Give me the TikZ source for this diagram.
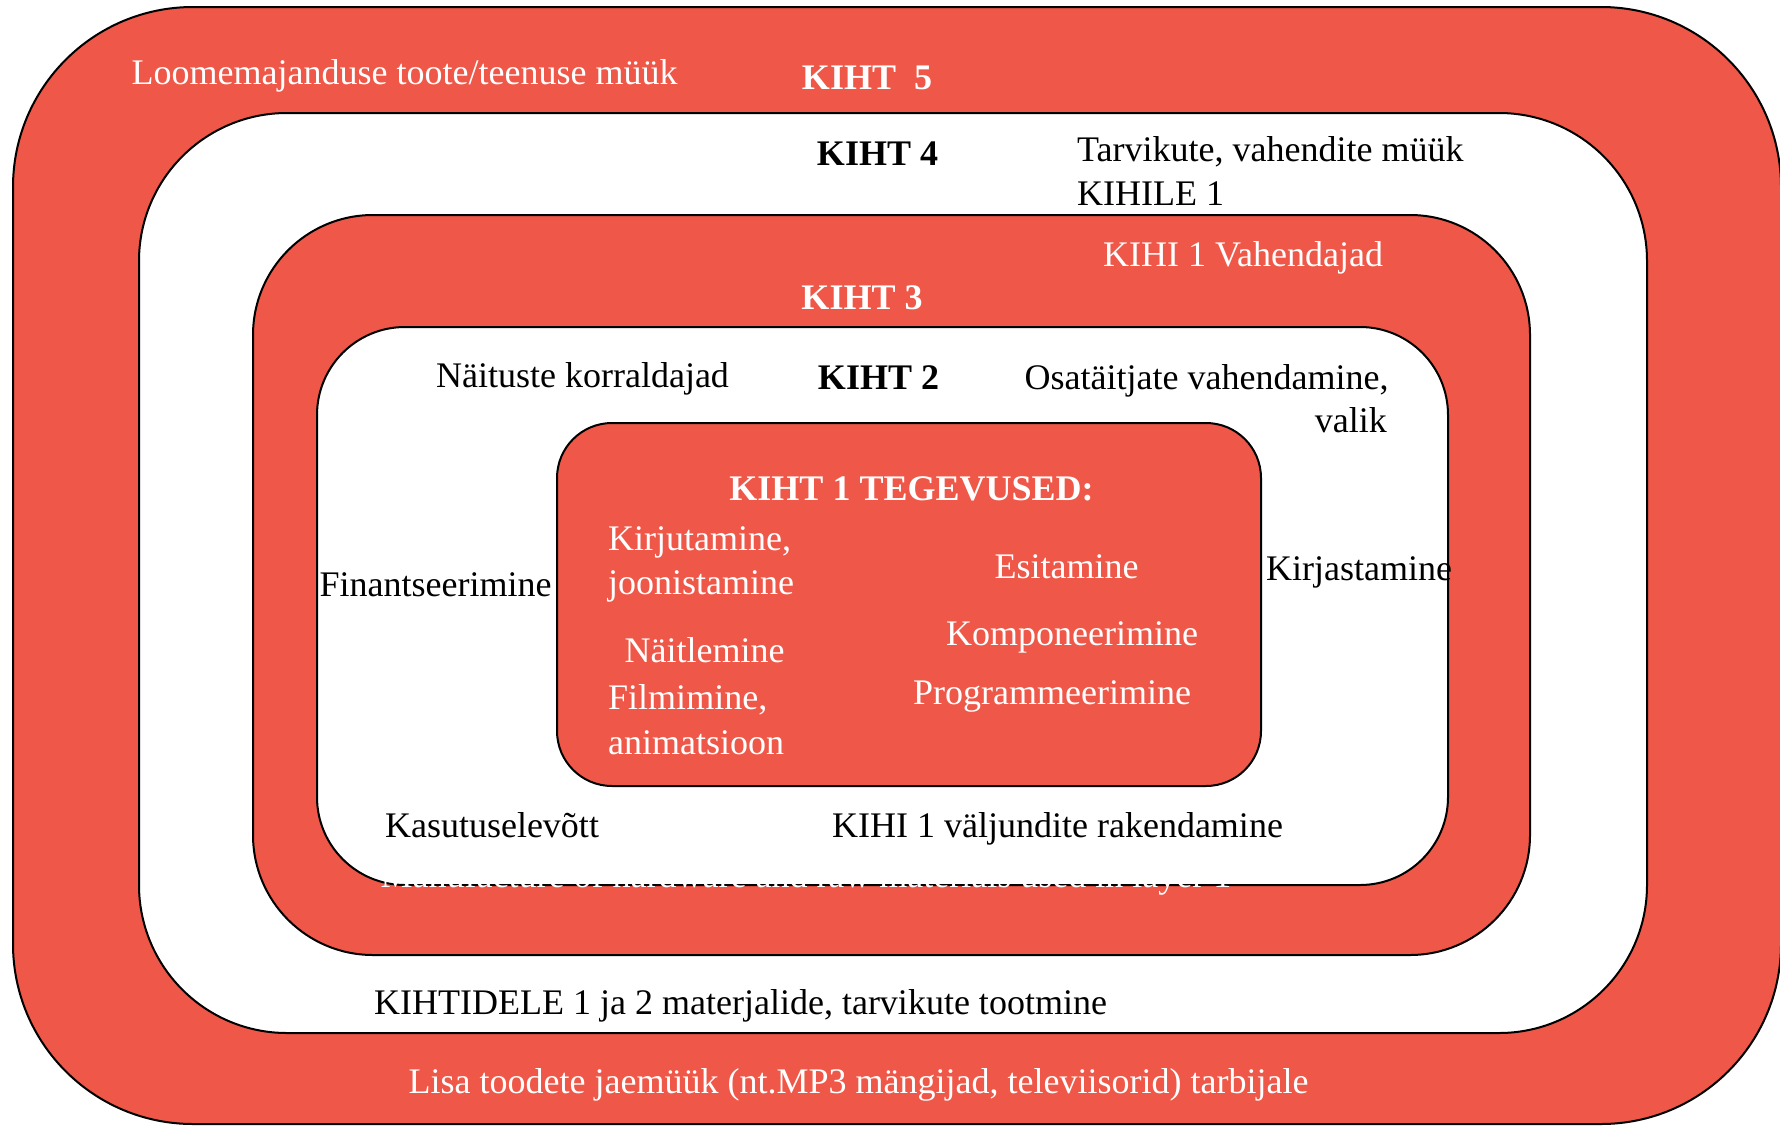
\documentclass[tikz,border=0pt]{standalone}
\usepackage{fontspec}
\setmainfont{Liberation Serif}
\definecolor{kred}{RGB}{239,88,72}
\begin{document}
\begin{tikzpicture}[x=1pt,y=-1pt,
  layer/.style={draw=black,line width=2pt,inner sep=0pt,outer sep=0pt,rectangle},
  redlayer/.style={layer,fill=kred},
  whitelayer/.style={layer,fill=white},
  txt/.style={inner sep=0pt,font=\fontsize{36}{43}\selectfont,text=black},
  wtxt/.style={txt,text=white},
  btxt/.style={txt,font=\fontsize{36}{43}\selectfont\bfseries},
  bwtxt/.style={btxt,text=white}]
\useasboundingbox (0,0) rectangle (1780,1125);
% layers
\node[redlayer,minimum width=1768pt,minimum height=1117pt,rounded corners=180pt] (L5) at (897,565.5) {};
\node[whitelayer,minimum width=1508pt,minimum height=920pt,rounded corners=148pt] (L4) at (893,573) {};
\node[redlayer,minimum width=1277pt,minimum height=740pt,rounded corners=120pt] (L3) at (891.5,585) {};
\node[whitelayer,minimum width=1131pt,minimum height=558pt,rounded corners=88pt] (L2) at (882.5,606) {};
\node[wtxt,anchor=base] (hid) at (806,887) {Manufacture of hardware and raw materials used in layer 1};
\node[redlayer,minimum width=704pt,minimum height=363pt,rounded corners=55pt] (L1) at (909,604.5) {};
% layer 5
\node[wtxt,anchor=base] (t5a) at (404.5,84) {Loomemajanduse toote/teenuse müük};
\node[bwtxt,anchor=base] (k5) at (867,89) {KIHT\ \ 5};
\node[wtxt,anchor=base] (t5b) at (858.5,1093) {Lisa toodete jaemüük (nt.MP3 mängijad, televiisorid) tarbijale};
% layer 4
\node[btxt,anchor=base] (k4) at (877.5,165) {KIHT 4};
\node[txt,anchor=base west] (t4a) at (1077,161) {Tarvikute, vahendite müük};
\node[txt,anchor=base west] (t4b) at (1077,205) {KIHILE 1};
\node[txt,anchor=base] (t4c) at (740.5,1014) {KIHTIDELE 1 ja 2 materjalide, tarvikute tootmine};
% layer 3
\node[wtxt,anchor=base] (t3a) at (1243,266) {KIHI 1 Vahendajad};
\node[bwtxt,anchor=base] (k3) at (862,309) {KIHT 3};
% layer 2
\node[txt,anchor=base] (t2a) at (582.5,387) {Näituste korraldajad};
\node[btxt,anchor=base] (k2) at (878.5,389) {KIHT 2};
\node[txt,anchor=base] (t2b) at (1206.5,389) {Osatäitjate vahendamine,};
\node[txt,anchor=base east] (t2c) at (1387,432) {valik};
\node[txt,anchor=base] (t2d) at (435.5,596) {Finantseerimine};
\node[txt,anchor=base west] (t2e) at (1266,580) {Kirjastamine};
\node[txt,anchor=base] (t2f) at (492,837) {Kasutuselevõtt};
\node[txt,anchor=base] (t2g) at (1057.5,837) {KIHI 1 väljundite rakendamine};
% layer 1
\node[bwtxt,anchor=base] (k1) at (911.5,500) {KIHT 1 TEGEVUSED:};
\node[wtxt,anchor=base west] (t1a) at (608,550) {Kirjutamine,};
\node[wtxt,anchor=base west] (t1b) at (608,594) {joonistamine};
\node[wtxt,anchor=base] (t1c) at (1066.5,578) {Esitamine};
\node[wtxt,anchor=base] (t1d) at (1072,645) {Komponeerimine};
\node[wtxt,anchor=base] (t1e) at (704.5,662) {Näitlemine};
\node[wtxt,anchor=base] (t1f) at (1052,704) {Programmeerimine};
\node[wtxt,anchor=base west] (t1g) at (608,709.5) {Filmimine,};
\node[wtxt,anchor=base west] (t1h) at (608,754.5) {animatsioon};
\end{tikzpicture}
\end{document}
